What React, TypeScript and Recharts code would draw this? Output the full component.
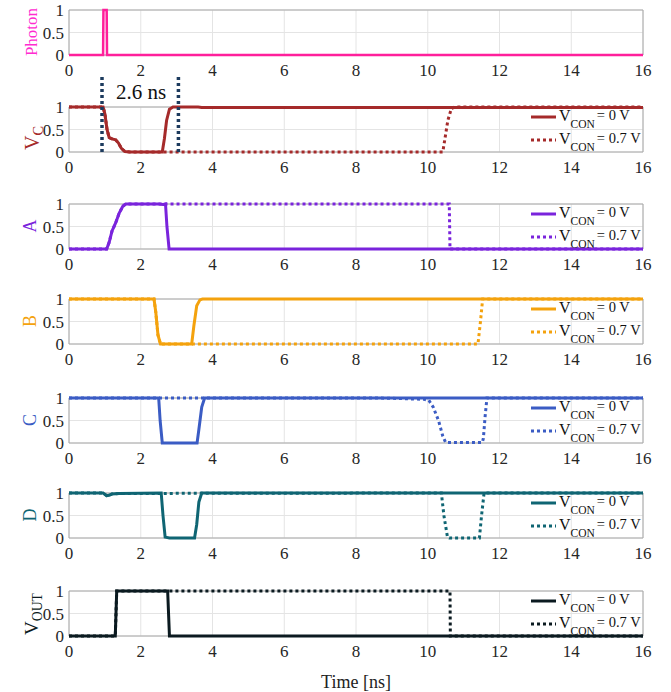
import { CartesianGrid, Line, LineChart, ReferenceArea, ReferenceLine, XAxis, YAxis } from 'recharts'

const FONT = '"Liberation Serif", "Times New Roman", Times, serif'

const xTicks = [0, 2, 4, 6, 8, 10, 12, 14, 16]
const yTicks = [0, 0.5, 1]

// [time ns, value]
const photon = [[0, 0], [0.95, 0], [0.96, 1], [1.05, 1], [1.06, 0], [16, 0]]

const vcSolid = [
  [0, 1], [0.95, 1], [1.0, 0.85], [1.06, 0.5], [1.12, 0.32], [1.2, 0.29], [1.3, 0.27],
  [1.38, 0.2], [1.46, 0.08], [1.56, 0.01], [1.7, 0], [2.6, 0], [2.66, 0.3], [2.72, 0.7],
  [2.8, 0.95], [2.9, 1], [3.6, 1], [3.7, 0.99], [16, 0.99],
]
const vcDotted = [
  [0, 1], [0.95, 1], [1.0, 0.85], [1.06, 0.5], [1.12, 0.32], [1.2, 0.29], [1.3, 0.27],
  [1.38, 0.2], [1.46, 0.08], [1.56, 0.01], [1.7, 0], [10.42, 0], [10.48, 0.3], [10.56, 0.7],
  [10.66, 0.97], [10.76, 1], [16, 1],
]

const aSolid = [
  [0, 0], [1.05, 0], [1.12, 0.15], [1.2, 0.4], [1.3, 0.58], [1.4, 0.8], [1.5, 0.95], [1.58, 1],
  [2.5, 1], [2.62, 0.99], [2.69, 1], [2.73, 0.5], [2.79, 0], [16, 0],
]
const aDotted = [
  [0, 0], [1.05, 0], [1.12, 0.15], [1.2, 0.4], [1.3, 0.58], [1.4, 0.8], [1.5, 0.95], [1.58, 1],
  [10.6, 1], [10.62, 0], [16, 0],
]

const bSolid = [
  [0, 1], [2.37, 1], [2.42, 0.7], [2.48, 0.2], [2.55, 0], [3.42, 0], [3.48, 0.4], [3.56, 0.85],
  [3.65, 0.98], [3.72, 1], [16, 1],
]
const bDotted = [
  [0, 1], [2.37, 1], [2.42, 0.7], [2.48, 0.2], [2.55, 0], [11.4, 0], [11.47, 0.5], [11.53, 1], [16, 1],
]

const cSolid = [
  [0, 1], [2.5, 1], [2.54, 0.5], [2.6, 0], [3.5, 0], [3.57, 0], [3.62, 0.3], [3.7, 0.8], [3.78, 1], [16, 1],
]
const cDotted = [
  [0, 1], [8.6, 1], [9.2, 0.99], [9.9, 0.97], [10.03, 0.95], [10.15, 0.8], [10.3, 0.5],
  [10.42, 0.15], [10.5, 0.01], [11.52, 0.01], [11.55, 0.1], [11.6, 0.6], [11.65, 1], [16, 1],
]

const dSolid = [
  [0, 1], [0.95, 1], [1.05, 0.94], [1.12, 0.95], [1.2, 0.98], [1.4, 0.99], [2.57, 1], [2.62, 0.5],
  [2.68, 0.02], [2.8, 0], [3.5, 0], [3.56, 0.3], [3.62, 0.8], [3.7, 1], [16, 1],
]
const dDotted = [
  [0, 1], [0.95, 1], [1.05, 0.94], [1.12, 0.95], [1.2, 0.98], [1.4, 0.99], [10.38, 1], [10.45, 0.5],
  [10.55, 0.02], [10.6, 0], [11.44, 0], [11.5, 0.5], [11.57, 1], [16, 1],
]

const voutSolid = [[0, 0], [1.29, 0], [1.33, 1], [2.75, 1], [2.8, 0], [16, 0]]
const voutDotted = [[0, 0], [1.29, 0], [1.33, 1], [10.62, 1], [10.63, 0], [16, 0]]

const delayMarks = [0.92, 3.05]

const PLOT_H = 45
const toPts = (arr: number[][]) => arr.map(([t, v]) => ({ t, v }))

type PanelDef = {
  top: number
  color: string
  solid: number[][]
  dotted?: number[][]
  width?: number
  marks?: number[]
  extraTop?: number
}

const panels: PanelDef[] = [
  { top: 10, color: '#ff1f9b', solid: photon, width: 2.5, extraTop: 10 },
  { top: 107, color: '#a52a2a', solid: vcSolid, dotted: vcDotted, marks: delayMarks, extraTop: 40 },
  { top: 204, color: '#7a24dc', solid: aSolid, dotted: aDotted },
  { top: 299, color: '#f4a20d', solid: bSolid, dotted: bDotted },
  { top: 398, color: '#3b5cc4', solid: cSolid, dotted: cDotted },
  { top: 493, color: '#0f6573', solid: dSolid, dotted: dDotted },
  { top: 591, color: '#0b1a20', solid: voutSolid, dotted: voutDotted },
]

const XTick = ({ x, y, payload }: any) => (
  <text x={x} y={y} dy="0.71em" textAnchor="middle" fill="#262626" fontSize={17} fontFamily={FONT}>
    {payload.value}
  </text>
)

const YTick = ({ x, y, payload }: any) => (
  <text x={x} y={y} dy="0.355em" textAnchor="end" fill="#262626" fontSize={17} fontFamily={FONT}>
    {payload.value}
  </text>
)

function Panel({ p }: { p: PanelDef }) {
  const mt = p.extraTop ?? 12
  const height = mt + PLOT_H + 26
  return (
    <div style={{ position: 'absolute', left: 0, top: p.top - mt }}>
      <LineChart width={671} height={height} margin={{ top: mt, right: 28, bottom: 0, left: 29 }}>
        <CartesianGrid stroke="#e4e4e4" />
        <XAxis
          dataKey="t"
          type="number"
          domain={[0, 16]}
          ticks={xTicks}
          interval={0}
          tickLine={false}
          axisLine={false}
          tickSize={0}
          tickMargin={9}
          height={26}
          tick={<XTick />}
        />
        <YAxis
          type="number"
          domain={[0, 1]}
          ticks={yTicks}
          interval={0}
          width={40}
          tickLine={false}
          axisLine={false}
          tickSize={0}
          tickMargin={5}
          tick={<YTick />}
        />
        <ReferenceArea x1={0} x2={16} y1={0} y2={1} fill="none" stroke="#a8a8a8" ifOverflow="visible" />
        <Line
          data={toPts(p.solid)}
          dataKey="v"
          type="linear"
          stroke={p.color}
          strokeWidth={p.width ?? 3}
          dot={false}
          isAnimationActive={false}
        />
        {p.dotted && (
          <Line
            data={toPts(p.dotted)}
            dataKey="v"
            type="linear"
            stroke={p.color}
            strokeWidth={3}
            strokeDasharray="3 3"
            dot={false}
            isAnimationActive={false}
          />
        )}
        {p.marks?.map((x) => (
          <ReferenceLine
            key={x}
            segment={[{ x, y: 0 }, { x, y: 1.71 }]}
            stroke="#1d3b5e"
            strokeWidth={3.5}
            strokeDasharray="3 3"
            ifOverflow="visible"
          />
        ))}
      </LineChart>
    </div>
  )
}

function YLabel({ x, y, color, main, sub, size = 18 }: { x: number; y: number; color: string; main: string; sub?: string; size?: number }) {
  return (
    <text transform={`translate(${x},${y}) rotate(-90)`} fill={color} fontSize={size} fontFamily={FONT} textAnchor="middle">
      {main}
      {sub && (
        <tspan fontSize={size * 0.72} dy={4}>
          {sub}
        </tspan>
      )}
    </text>
  )
}

function LegendBox({ top, color }: { top: number; color: string }) {
  const rows = [
    { y: top + 10, dash: undefined, val: '= 0 V' },
    { y: top + 33, dash: '3 3', val: '= 0.7 V' },
  ]
  return (
    <g>
      {rows.map((r) => (
        <g key={r.val}>
          <line x1={531} x2={556} y1={r.y} y2={r.y} stroke={color} strokeWidth={3} strokeDasharray={r.dash} />
          <text x={559} y={r.y + 4} fontSize={16} fontFamily={FONT} fill="#111">
            V
            <tspan fontSize={11.5} dy={7}>CON</tspan>
            <tspan fontSize={14.5} dy={-8} dx={2}>{r.val}</tspan>
          </text>
        </g>
      ))}
    </g>
  )
}

export default function App() {
  return (
    <div style={{ position: 'absolute', left: 0, top: 0, width: 671, height: 692, background: '#fff' }}>
      {panels.map((p, i) => (
        <Panel key={i} p={p} />
      ))}
      <svg width={671} height={692} style={{ position: 'absolute', left: 0, top: 0, pointerEvents: 'none' }}>
        <YLabel x={37} y={32} color="#ff2bd0" main="Photon" size={17} />
        <YLabel x={39} y={138} color="#a52a2a" main="V" sub="C" size={20} />
        <YLabel x={36} y={226} color="#7a24dc" main="A" />
        <YLabel x={36} y={321} color="#f4a20d" main="B" />
        <YLabel x={36} y={420} color="#3b5cc4" main="C" />
        <YLabel x={36} y={515} color="#0f6573" main="D" />
        <YLabel x={38} y={614} color="#0b1a20" main="V" sub="OUT" size={19} />
        <text x={141} y={99} fontSize={21} fontFamily={FONT} textAnchor="middle" fill="#111">
          2.6 ns
        </text>
        {panels.slice(1).map((p, i) => (
          <LegendBox key={i} top={p.top} color={p.color} />
        ))}
        <text x={356} y={688} fontSize={18} fontFamily={FONT} textAnchor="middle" fill="#222">
          Time [ns]
        </text>
      </svg>
    </div>
  )
}
